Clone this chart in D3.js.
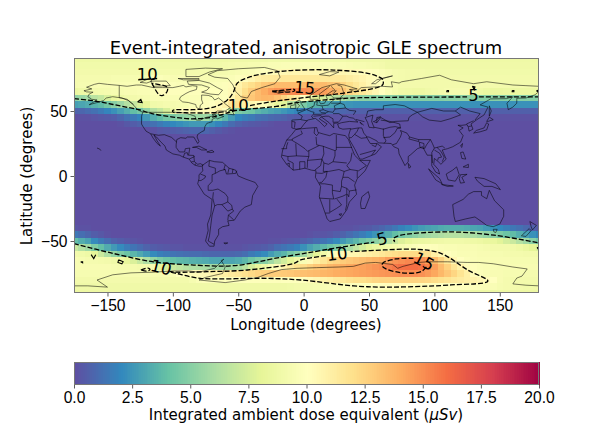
<!DOCTYPE html>
<html>
<head>
<meta charset="utf-8">
<script src="https://cdn.jsdelivr.net/npm/d3@7"></script>
<style>
body { margin: 0; background: white; }
svg { display: block; font-family: "DejaVu Sans", sans-serif; }
text { fill: #000; }
</style>
</head>
<body>
<div id="graph"></div>
<script>
const titleText = "Event-integrated, anisotropic GLE spectrum";
const xLabelText = "Longitude (degrees)";
const yLabelText = "Latitude (degrees)";

const xTicks = [-150, -100, -50, 0, 50, 100, 150];
const yTicks = [-50, 0, 50];
const barTicks = [0, 2.5, 5, 7.5, 10, 12.5, 15, 17.5, 20];

// Spectral_r stops
const colorStops = ["#5e4fa2", "#3288bd", "#66c2a5", "#abdda4", "#e6f598", "#ffffbf", "#fee08b", "#fdae61", "#f46d43", "#d53e4f", "#9e0142"];

// grid cell centres: longitudes run -175, -170 ... 180, one value per column
const gridLonStart = -175;
const gridStep = 5;

// rows not listed here are 0 (the band in the middle of the map)
const northLats = [90, 85, 80, 75, 70, 65, 60, 55, 50, 45, 40, 35];
const northRows = [
  [8.7,8.7,8.7,8.7,8.7,8.7, 8.7,8.7,8.7,8.7,8.7,8.7, 8.7,8.7,8.7,8.7,8.7,8.7, 8.7,8.7,8.7,8.7,8.7,8.7, 8.8,8.8,8.8,8.8,8.8,8.8, 8.9,8.9,8.9,8.9,8.9,8.9, 8.9,8.9,8.9,8.9,8.9,8.9, 8.8,8.8,8.8,8.8,8.8,8.8, 8.7,8.7,8.7,8.7,8.7,8.7, 8.7,8.7,8.7,8.7,8.7,8.7, 8.7,8.7,8.7,8.7,8.7,8.7, 8.7,8.7,8.7,8.7,8.7,8.7],
  [8.9,8.9,8.9,8.9,8.9,8.9, 8.9,8.9,8.9,8.9,8.9,8.9, 8.9,8.9,8.9,8.9,8.9,8.9, 8.9,8.9,8.9,8.9,8.9,9, 9.1,9.2,9.2,9.3,9.3,9.4, 9.5,9.5,9.6,9.6,9.6,9.6, 9.6,9.6,9.6,9.6,9.5,9.5, 9.4,9.3,9.3,9.2,9.1,9, 8.8,8.8,8.8,8.8,8.8,8.8, 8.8,8.8,8.8,8.8,8.8,8.8, 8.8,8.8,8.8,8.8,8.8,8.8, 8.8,8.8,8.8,8.8,8.8,8.8],
  [9,9,9,9,9,9, 9,9,9,9,9,9, 9.1,9.1,9.1,9.1,9.1,9.1, 9.1,9.1,9.1,9.1,9.2,9.2, 9.3,9.4,9.5,9.6,9.8,10, 10.2,10.3,10.4,10.5,10.5,10.5, 10.5,10.5,10.5,10.5,10.5,10.5, 10.4,10.3,10.2,10.1,9.8,9.6, 9.4,9.2,9.1,9,9,9, 8.9,8.9,8.9,8.9,8.9,8.9, 8.9,8.9,8.9,8.9,8.9,8.9, 8.9,8.9,8.9,8.9,8.9,8.9],
  [9.2,9.2,9.2,9.2,9.2,9.2, 9.3,9.3,9.3,9.3,9.3,9.3, 9.6,9.7,9.5,9.4,9.4,9.4, 9.4,9.4,9.4,9.4,9.5,9.5, 9.6,9.8,10.2,10.5,11,11.2, 11.3,11.4,11.5,11.5,11.5,11.5, 11.5,11.5,11.5,11.5,11.5,11.3, 11.1,10.9,10.7,10.4,10.2,9.9, 9.5,9.2,9.1,9,9,9, 9,9,9,9,9,9, 9,9,9,9,9,9, 9,9,9,9,9,9],
  [9.2,9.3,9.3,9.4,9.4,9.4, 9.5,9.5,9.5,9.5,9.5,9.5, 9.9,10.1,10.1,9.7,9.6,9.6, 9.6,9.6,9.6,9.7,9.7,9.8, 10.2,10.8,11.5,12,12.5,13, 13.2,13.5,13.5,13.5,13.5,13.5, 13.5,13.5,13.5,13.2,13,12.5, 12,11.5,11,10.5,10.2,10, 9.5,9.2,9,9,9,9, 9,9,9,9,9,9, 9,9,9,9,9,9, 9,9,9,9,9,9],
  [8.5,8.7,8.9,9,9.1,9.2, 9.3,9.3,9.4,9.4,9.5,9.5, 9.7,10.1,10.1,9.8,9.8,9.8, 9.8,9.8,9.9,9.9,9.9,9.8, 10.3,11,12,12.8,13.5,14, 14.5,14.8,15,15.1,15.2,15.1, 15,14.8,14.5,14.2,13.5,13.2, 12.5,12,11.5,11,10.5,10, 9.5,9.1,8.8,8.7,8.6,8.6, 8.8,8.9,9,9.2,9.2,9.2, 9.2,9,8.7,8.5,8.4,8.4, 8.5,8.5,8.5,8.5,8.5,8.5],
  [5.2,5.5,5.8,6.5,6.8,7.5, 8.3,8.6,8.9,9,9.2,9.3, 9.5,9.5,9.5,9.5,9.5,9.5, 9.6,9.6,9.7,9.7,9.8,9.9, 10.5,11.5,12.5,13,13.5,13.7, 13.6,13.2,12.5,11.7,11,10, 9,8,7.5,7,6.5,6, 5.6,5.3,5.1,5,5,5, 5,5,4.9,4.9,4.9,4.9, 4.9,4.9,4.9,5,5,5.1, 5.1,5,4.9,4.9,4.9,4.9, 4.9,4.9,4.9,4.9,4.9,4.9],
  [2.8,3,3.2,3.5,3.8,4.4, 5,5.6,6.3,6.9,7.5,8.2, 8.9,9,9.2,9.2,9.3,9.3, 9.6,9.7,9.8,10,10.3,10.8, 11.5,11.8,11,10.6,10.2,9.8, 9,8.3,7.8,6.5,5.8,4.6, 3.8,3.4,3.1,2.9,2.7,2.5, 2.4,2.3,2.3,2.3,2.3,2.3, 2.3,2.3,2.3,2.3,2.3,2.3, 2.3,2.3,2.3,2.3,2.3,2.3, 2.3,2.3,2.3,2.3,2.3,2.3, 2.3,2.3,2.3,2.3,2.3,2.3],
  [0.7,0.8,1,1.2,1.5,1.9, 2.3,2.8,3.3,3.9,4.4,5.3, 6.3,6.8,7.5,8.8,10.1,10.2, 10.3,10.3,10.3,10.5,10.8,9.8, 6.5,4.7,4.4,4.2,3.6,3.3, 3,2.8,2.5,2.2,1.9,1.6, 1.4,1.2,1.1,1,0.9,0.8, 0.7,0.6,0.6,0.6,0.6,0.6, 0.6,0.6,0.6,0.6,0.6,0.6, 0.6,0.6,0.6,0.6,0.6,0.6, 0.6,0.6,0.6,0.6,0.6,0.6, 0.6,0.6,0.6,0.6,0.6,0.6],
  [0,0.1,0.1,0.2,0.3,0.4, 0.5,0.8,1.2,1.5,1.9,2.6, 3.3,3.8,4.4,4.7,5,5.3, 5.6,5.6,5.6,5,4.4,3.6, 2.7,2,1.7,1.5,1.2,1.1, 0.9,0.8,0.7,0.5,0.4,0.3, 0.25,0.2,0.1,0.1,0.1,0.1, 0.1,0.1,0.1,0.1,0.1,0.1, 0.1,0.1,0.1,0.1,0.1,0.1, 0.1,0.1,0.1,0.1,0.1,0.1, 0.1,0.1,0.1,0.1,0.1,0.1, 0.1,0.1,0.1,0.1,0.1,0.1],
  [0,0,0,0,0,0, 0,0.1,0.3,0.5,0.7,1, 1.2,1.5,1.8,2,2.2,2.4, 2.6,2.6,2.6,2.3,1.9,1.5, 1,0.7,0.5,0.4,0.3,0.2, 0.1,0,0,0,0,0, 0,0,0,0,0,0, 0,0,0,0,0,0, 0,0,0,0,0,0, 0,0,0,0,0,0, 0,0,0,0,0,0, 0,0,0,0,0,0],
  [0,0,0,0,0,0, 0,0,0,0,0,0, 0.1,0.3,0.4,0.5,0.6,0.7, 0.8,0.8,0.8,0.6,0.4,0.2, 0.1,0,0,0,0,0, 0,0,0,0,0,0, 0,0,0,0,0,0, 0,0,0,0,0,0, 0,0,0,0,0,0, 0,0,0,0,0,0, 0,0,0,0,0,0, 0,0,0,0,0,0]
];

const southLats = [-40, -45, -50, -55, -60, -65, -70, -75, -80, -85, -90];
const southRows = [
  [0.2,0.1,0.1,0,0,0, 0,0,0,0,0,0, 0,0,0,0,0,0, 0,0,0,0,0,0, 0,0,0,0,0,0, 0,0,0,0,0,0, 0,0,0,0,0,0.1, 0.1,0.2,0.3,0.4,0.6,0.8, 1.1,1.4,1.8,2.1,2.4,2.7, 2.9,3,3.2,3.3,3.3,3.3, 3.2,3,2.9,2.6,2.3,2, 1.7,1.4,1.2,0.9,0.6,0.4],
  [1.4,1.1,0.8,0.5,0.3,0.1, 0,0,0,0,0,0, 0,0,0,0,0,0, 0,0,0,0,0,0, 0,0,0,0,0,0, 0,0,0,0,0,0, 0.1,0.2,0.2,0.3,0.5,0.7, 1,1.3,1.6,2,2.4,2.9, 3.3,3.9,4.4,4.8,5.1,5.5, 5.7,5.9,6.1,6.3,6.3,6.3, 6.1,6,5.7,5.3,5,4.6, 4.2,3.8,3.3,2.8,2.3,1.9],
  [3.9,3.3,2.9,2.1,1.5,1.1, 0.7,0.5,0.3,0.2,0.1,0, 0,0,0,0,0,0, 0,0,0,0,0,0, 0,0,0,0,0,0, 0.1,0.1,0.2,0.3,0.4,0.6, 0.8,1.1,1.3,1.6,2.1,2.6, 3.1,3.6,4.2,4.6,5.1,5.7, 6.3,7,7.7,8.1,8.4,8.5, 8.6,8.7,8.8,8.9,8.9,8.9, 8.8,8.7,8.6,8.4,8.3,7.9, 7.4,7,6.3,5.7,5,4.4],
  [7,6.3,5.7,4.7,3.9,3.2, 2.6,2.1,1.6,1.3,1,0.7, 0.5,0.4,0.3,0.2,0.2,0.1, 0.1,0.1,0.1,0.1,0.1,0.1, 0.1,0.1,0.2,0.3,0.4,0.5, 0.7,1.1,1.3,1.5,1.8,2.3, 2.9,3.3,3.7,4.2,4.7,5.3, 6,6.7,7.3,7.9,8.4,8.7, 8.9,9.1,9.3,9.5,9.7,9.9, 9.9,9.8,9.6,9.5,9.5,9.4, 9.4,9.4,9.3,9.2,9,9, 9,8.9,8.7,8.4,8,7.6],
  [9,8.9,8.7,8,7,6.1, 5.3,4.7,4.2,3.6,3.1,2.6, 2.1,1.7,1.5,1.3,1.2,1.1, 1,1,0.9,0.8,0.8,0.8, 0.8,0.9,1.1,1.5,1.8,2.1, 2.7,3.2,3.6,4.4,4.9,5.7, 7,8,8.8,9.6,10.1,10.3, 10.5,10.6,10.8,11,11.2,11.5, 11.8,12,12.2,12.2,12.2,12, 11.8,11,10.5,10,9.7,9.5, 9.5,9.5,9.4,9.4,9.3,9.3, 9.2,9.1,9.1,9,9,8.9],
  [9.4,9.3,9.2,9.2,9.1,9, 8.8,8.6,8.2,7.6,6.9,6.1, 5.3,4.6,4.2,3.9,3.7,3.6, 3.4,3.3,3.2,3,3,3, 3,3.2,3.6,4.2,4.7,5, 5.7,6.6,7.3,8,8.8,9.5, 10.3,11,11.6,12.2,12.5,12.8, 13,13.2,13.4,13.6,13.8,14, 14.5,14.8,15,15.2,15.2,15, 14.5,13.5,12.5,11.5,10.5,10, 9.7,9.6,9.5,9.5,9.4,9.4, 9.4,9.3,9.3,9.3,9.3,9.2],
  [9.4,9.4,9.4,9.4,9.4,9.4, 9.3,9.2,9.2,9.1,9,9.1, 9.3,8.3,7.5,7,6.7,6.4, 6.2,6.1,6,5.7,5.7,5.7, 5.7,5.9,6.5,7.4,8.2,8.8, 9.5,10.2,10.8,11.3,11.8,12.2, 12.6,13,13.3,13.6,13.8,14, 14.2,14.3,14.4,14.6,14.8,15, 15.4,15.7,15.9,16,16,15.8, 15.3,14.5,13.5,12.6,11.6,10.8, 10.2,9.8,9.6,9.5,9.5,9.4, 9.4,9.4,9.4,9.4,9.4,9.4],
  [9.3,9.3,9.3,9.3,9.3,9.3, 9.3,9.3,9.3,9.3,9.3,9.3, 9.3,9.3,9.4,9.5,10,10.1, 10.2,10.3,10.4,10.6,10.8,11, 11.3,11.5,11.8,12.2,12.5,12.7, 12.8,12.8,12.9,13,13.2,13.3, 13.4,13.5,13.7,13.8,14,14.1, 14.2,14.3,14.4,14.5,14.6,14.7, 14.8,14.9,15,15,15,14.9, 14.6,14.2,13.6,13,12.4,11.7, 11,10.2,9.7,9.5,9.4,9.4, 9.3,9.3,9.3,9.2,9.2,9.2],
  [9,9,9,9,9,9, 9,9,9,9,9,9, 9,9,9,9,9,9, 9.3,9.6,9.8,9.8,9.8,9.8, 9.8,9.8,9.8,9.8,9.8,9.8, 9.8,9.8,9.9,9.9,9.9,10, 10.3,10.5,10.8,11,11.3,11.5, 11.8,12,12,12.2,12.4,12.5, 12.5,12.5,12.5,12.5,12.5,12.4, 12.3,12.1,11.9,11.7,11.4,11.2, 11,10.8,10.5,10.2,10,9.4, 9.2,9.1,9,9,9,9],
  [8.8,8.8,8.8,8.8,8.8,8.8, 8.8,8.8,8.8,8.8,8.8,8.8, 8.8,8.8,8.8,8.8,8.8,8.8, 8.8,8.8,8.8,8.8,8.8,8.8, 8.8,8.8,8.8,8.8,8.8,8.8, 8.8,8.8,8.8,8.9,9,9.1, 9.2,9.3,9.5,9.6,9.7,9.7, 9.8,9.8,9.9,9.9,10,10, 10.1,10.1,10.1,10.1,10.1,10.1, 10.1,10.1,10,10,10,10, 9.9,9.8,9.7,9.6,9.5,9.3, 9.2,9.1,9,8.9,8.9,8.8],
  [8.6,8.6,8.6,8.6,8.6,8.6, 8.6,8.6,8.6,8.6,8.6,8.6, 8.6,8.6,8.6,8.6,8.6,8.6, 8.6,8.6,8.6,8.6,8.6,8.6, 8.6,8.6,8.6,8.6,8.6,8.6, 8.7,8.7,8.7,8.7,8.8,8.8, 8.8,8.8,8.8,8.8,8.8,8.8, 8.8,8.8,8.8,8.8,8.8,8.8, 8.8,8.8,8.8,8.8,8.8,8.8, 8.8,8.8,8.8,8.8,8.8,8.8, 8.8,8.7,8.7,8.7,8.6,8.6, 8.6,8.6,8.6,8.6,8.6,8.6]
];

// dashed contour lines, [lon, lat], broken where a label sits
const contour5 = [
  [[-175.6,59.5],[-165.4,58.5],[-155.6,57],[-145.7,55],[-135.8,53],[-125.9,51],[-116,48],[-101.2,45.5],[-86.3,44],[-71.5,45],[-61.6,47.5],[-53.7,50],[-41.8,51.5],[-21,53.5],[-8.2,56],[16.5,58.5],[37.3,60],[62,60.5],[125,60.8]],
  [[134,60.8],[180,60.8]],
  [[-175.6,-52],[-148,-59],[-115,-66],[-84,-68.5],[-53.7,-69],[-20,-63],[-2.3,-60],[5.4,-58.7],[23,-55.6],[54,-50.8]],
  [[69,-47.7],[74.4,-45.5],[110.4,-43],[145.7,-45.5],[180,-51.5]]
];
const contour10 = [
  [[-41,54.2],[-39.3,54.6],[-19,57.9],[6.7,61],[29.7,63.6],[60.3,70],[60.6,74],[59,75.5],[49,79],[23,81.5],[-2.3,81.5],[-20,80.2],[-40.6,76.4],[-50.6,71.5],[-54,64],[-58.3,58.5],[-66,54],[-73,52],[-85,51],[-100,50.5],[-100,49.3],[-90,48.7],[-73.6,48.5],[-59,49.5]],
  [[-116,71.3],[-111,63],[-108.4,61.8],[-104.5,64.8],[-104.3,68.2],[-116,71.3]],
  [[-126.5,74],[-112,75]],
  [[17,-61.2],[-2.3,-64.6],[-7.5,-67.2],[-43,-72.3],[-73.9,-73.6],[-96.9,-74],[-103,-73.5],[-97,-75],[-79,-78.7],[-27.8,-78.7],[-2.3,-80],[48.8,-85.2],[112.7,-83.8],[140.9,-80.8],[125.5,-72.3],[105,-59.5],[87.2,-56.4],[61.3,-56.9],[36,-58.2]],
  [[-124.5,-72.3],[-119,-70.8],[-117.5,-72],[-120,-73.2],[-124.5,-72.3]]
];
const contour15 = [
  [[-24,65],[-15,66],[-7,66.5],[-7,65.5],[-15,64.5],[-24,65]],
  [[84,-63.3],[70.5,-63.8],[60.4,-67.2],[60.4,-69.8],[74.4,-74.4],[89.7,-73.6],[94,-69.8]]
];
// very small closed contours
const contourSpecks = [
  [[109.5,65.8],[110.8,65.8],[110.8,64.8],[109.5,64.8],[109.5,65.8]],
  [[159.5,65.8],[160.8,65.8],[160.8,64.8],[159.5,64.8],[159.5,65.8]],
  [[178,65.5],[179.5,66],[179.8,64.5],[178,65.5]],
  [[-127,57],[-124.5,59],[-123.5,56.5],[-127,57]],
  [[129,69],[131,68.5],[130.5,66.5],[129,69]],
  [[-170.5,-66],[-169,-66],[-169,-66.8],[-170.5,-66]],
  [[-162.5,-60.5],[-160.5,-63.5],[-159,-60.5]],
  [[-141.5,-64.5],[-138,-66],[-139,-67.5],[-142,-66.5],[-141.5,-64.5]],
  [[178.5,-55],[180,-55],[180,-57],[178.5,-55]],
  [[68.5,-49.5],[69.5,-49.5],[69.5,-50.3],[68.5,-49.5]]
];

// contour labels: lon, lat, text, rotation
const contourLabels = [
  [-119.5, 77.7, "10", 0],
  [-50, 54.6, "10", 0],
  [0.8, 67.7, "15", 5],
  [130, 62, "5", 0],
  [-109, -70.5, "10", 14],
  [25.5, -60.2, "10", -7],
  [60, -48.5, "5", -15],
  [92, -65.8, "15", 28]
];

// coastlines, [lon, lat]
const coastlines = [
  [[-168,65.6],[-164,66.5],[-162,67],[-166,68.3],[-160,70.5],[-156.5,71.3],[-150,70.5],[-141,69.7],[-135,69],[-128,70],[-124,70],[-115,68],[-108,68],[-100,68],[-95,69],[-92,69.7],[-90,68.5],[-85,69.5],[-81.5,69],[-82,66.5],[-87,65],[-90,63.5],[-94,61],[-95,59],[-92.5,57],[-88,56.5],[-82.5,55],[-82,52.8],[-79.5,51.3],[-79,54.5],[-77,56],[-78,58.5],[-78,62.3],[-73,62],[-70,61],[-68,58.5],[-65,60],[-62,57.5],[-60,55.5],[-56,52.5],[-60,50],[-66,50],[-70,47],[-65,48.8],[-65,47],[-61,45.8],[-66,44],[-67,45],[-70,43.5],[-70,41.7],[-74,40.5],[-75.5,38],[-76,35],[-78,34],[-81,32],[-81.5,30],[-80,26.5],[-81,25],[-82.8,28],[-84,30],[-89,30],[-90,29],[-94,29.5],[-97,28],[-97.5,24],[-97.5,22],[-95,18.5],[-91,18.5],[-90.5,21],[-87,21.5],[-88,16],[-84,15.8],[-83.5,11],[-81,9],[-79,9.5],[-77,8.5],[-78,7.5],[-80,7.5],[-83,8.3],[-85.5,10],[-87.5,13],[-92,14.5],[-95,16],[-100,17],[-105,20],[-106,23],[-109,26],[-112.5,30],[-114.5,31.5],[-112,27],[-109.5,23],[-112,25],[-115,29],[-117,32.5],[-120.5,34.5],[-122.5,37.5],[-124,40],[-124,46],[-123,49],[-127,51],[-130,54.5],[-134,58],[-139,60],[-146,61],[-151,60],[-153,58],[-158,56.5],[-164,54.8],[-158,58.5],[-162,59],[-165,61],[-164,63],[-161,64.5],[-166,64.7],[-168,65.6]],
  [[-73,78],[-66,81],[-50,82.5],[-30,83.5],[-20,81],[-18,76],[-22,71],[-32,68],[-40,65],[-43,60],[-48,61],[-52,65],[-54,70],[-58,75],[-68,76],[-73,78]],
  [[-80,73.5],[-72,71.5],[-66,68],[-62,66],[-65,62.5],[-71,63],[-78,64.5],[-74,66],[-72,68],[-78,70],[-88,70.5],[-89,73],[-80,73.5]],
  [[-117,73],[-105,73],[-102,69.5],[-115,69],[-117,73]],
  [[-90,76.5],[-80,76.5],[-72,80],[-62,82.5],[-75,83],[-90,82],[-90,76.5]],
  [[-125,72],[-118,75],[-116,73],[-120,71.5],[-125,72]],
  [[-96,75],[-80,75],[-80,74],[-92,74],[-96,75]],
  [[-59,47.8],[-53,47],[-55.5,51.5],[-59,47.8]],
  [[-85,22],[-80,23],[-74,20],[-78,20],[-82,22],[-85,22]],
  [[-74,18.5],[-70,19.8],[-68.5,18.5],[-71,18],[-74,18.5]],
  [[-158,21.5],[-156,20.8],[-155,19.5]],
  [[-24,65.5],[-15,66],[-14,65],[-19,63.5],[-24,65.5]],
  [[12,78],[20,80.3],[27,80],[20,77],[12,78]],
  [[52,71],[56,74],[68,77],[60,75],[55,71],[52,71]],
  [[-5,50],[1,51.2],[0,53],[-2,56],[-3,58.5],[-6,57],[-3,54],[-5,52],[-5,50]],
  [[-10,52],[-6,52],[-6,55],[-10,54],[-10,52]],
  [[-77,8.5],[-72,12],[-68,11],[-62,10.5],[-57,6],[-52,4.5],[-50,0],[-44,-2.5],[-37,-5],[-35,-8],[-39,-15],[-40,-22],[-45,-24],[-48.5,-27],[-53,-34],[-58,-34.5],[-57,-38],[-62,-39],[-65,-41],[-65,-45],[-68,-50],[-68.5,-54],[-72,-54],[-75,-50],[-73,-42],[-73.5,-37],[-71,-30],[-70,-18],[-76,-14],[-81,-6],[-80,-2],[-80,1],[-77,4],[-77.5,7],[-77,8.5]],
  [[-6,35.8],[2,36.7],[10,37.3],[11,33.5],[15,32.3],[20,31],[23,32.7],[32,31],[34.3,28],[37,21],[39,16],[43,12],[51,12],[47,4],[41,-2],[39,-7],[40.5,-14],[35,-20],[33,-26],[28,-33],[20,-35],[18,-33],[14.5,-23],[12,-16],[13,-8],[9,-1],[9.5,4],[6,4.5],[1,6],[-4,5],[-8,4.5],[-13,9],[-17,14.7],[-16,20],[-13,27.5],[-9,32],[-6,35.8]],
  [[49.5,-12],[50.5,-16],[47,-25],[44,-25],[43.5,-21],[44.5,-16],[49.5,-12]],
  [[-9,37],[-9,43],[-2,43.5],[-1,46],[-4.5,48.3],[2,51],[4,52],[8,54],[8.5,57],[10.5,57],[10,54.5],[14,54],[19,54.5],[21,57],[24,59.3],[30,60],[23,60],[21,62],[25,65.5],[22,65.5],[17,62],[18,59.5],[16,56],[13,55.5],[11,59],[5,59],[5,62],[14,68],[25,71],[31,70],[41,67],[35,66.5],[40,64.5],[44,68],[54,68.5],[60,69],[68,68.5],[67,72.5],[73,71.5],[75,72.5],[81,73.5],[90,75],[104,77.5],[113,74],[130,71],[140,72.5],[160,70],[170,69.5],[180,69],[180,65],[177,62.5],[170,60],[163,59.8],[163,56],[160,53],[156.5,51],[155.5,56],[160,61],[155,59.5],[143,59.3],[135,54.7],[141,53],[138,47],[132,43],[128,40],[129.5,36],[126.5,34.5],[126,37.5],[125,39.5],[121,39],[118,39],[122,37],[119,35],[122,31],[120,26],[114,22.5],[110,21],[106,20],[109,13],[105,9],[103,11],[100,13.5],[99.5,9],[103,5],[104,1.5],[101,3],[98,8],[98,16],[94.5,16],[91,22.5],[87,21],[82,16.5],[80,15],[80,11],[77.5,8],[73,17],[72.5,21],[69,22.5],[67,25],[57,25.5],[56,27],[50,30],[48,30],[51,25],[56,25],[59.5,22.5],[55,17],[45,13],[43,13],[39,21],[35,28],[34.5,31.5],[36,36.5],[30,36],[27,37],[26,40],[29,41],[35,42],[41.5,41.5],[38,44.5],[35,45],[33,46],[30,46],[28,43],[26,40.8],[23,40.5],[23,37],[19.5,41],[13.5,45.5],[12,44],[18,40],[16,38],[12,42],[9,44.3],[3,43],[0,39.5],[-2,36.7],[-5.5,36],[-9,37]],
  [[47,45],[53,46.8],[52,42],[54,37],[50,37.5],[49,41],[47,45]],
  [[142,54],[143.5,50],[142,46],[142,50],[142,54]],
  [[130,33],[135,34],[140,35.5],[141.5,40],[140,41],[138,37],[132,35],[130,33]],
  [[140,42],[142,45.3],[145,43.3],[141,42],[140,42]],
  [[120,23],[121.5,25],[121,22],[120,23]],
  [[120,18],[122,18.5],[124,13],[121,13.5],[120,18]],
  [[122,7],[126,9],[126,6.5],[122,7]],
  [[109,1.5],[114,4.5],[117,7],[119,1],[116,-4],[110.5,-3],[109,1.5]],
  [[95.5,5.5],[104,-2],[106,-6],[101,-3],[95.5,5.5]],
  [[105.5,-6.5],[114.5,-7.7],[110,-8],[105.5,-6.5]],
  [[120,1],[125,1.3],[121,-1],[123,-5],[120,-5.5],[119,-2],[120,1]],
  [[131,-1],[138,-2],[147,-6],[150.5,-10.5],[144,-8],[138,-8],[133,-4],[131,-1]],
  [[80,9.7],[82,7],[80.5,6],[80,9.7]],
  [[114,-22],[122,-18],[126,-14],[130,-12],[136,-12],[136,-15],[140,-17.5],[142,-11],[146,-19],[153,-26],[153,-31],[150,-37],[145,-39],[140,-38],[136,-35],[131,-31.5],[124,-33],[116,-35],[115,-31],[114,-22]],
  [[145,-41],[148,-41],[147,-43.5],[145.5,-43],[145,-41]],
  [[173,-35],[178,-38],[175,-41.5],[174,-39],[173,-35]],
  [[172.5,-40.5],[174,-42],[170,-46.5],[166.5,-46],[172.5,-40.5]],
  [[-61,-51.5],[-58,-51.5],[-60,-52.2],[-61,-51.5]],
  [[-180,-84.5],[-165,-84.5],[-150,-85.5],[-158,-80],[-146,-76],[-132,-74.5],[-115,-74],[-100,-73],[-88,-73],[-80,-74],[-68,-71],[-61,-64],[-63,-65],[-60,-70],[-62,-75],[-75,-78],[-80,-80],[-60,-82],[-45,-80],[-35,-78],[-27,-75],[-17,-72],[-5,-71],[10,-70.5],[27,-70],[38,-69.5],[47,-67],[55,-66.5],[68,-68],[72,-71],[76,-69.5],[88,-66.5],[95,-66],[110,-66],[125,-66.5],[134,-66.5],[145,-67.5],[160,-70],[171,-71.5],[167,-77],[163,-78.5],[160,-83],[170,-84],[180,-84.5]]
];

// country borders, [lon, lat]
const borders = [
  [[-141,69.7],[-141,60.3],[-135,59],[-130,55]],
  [[-123,49],[-95,49],[-89,48],[-83,46],[-82,43],[-79,43],[-75,45],[-70,46],[-67.5,47.3],[-67,45]],
  [[-117,32.5],[-111,31.3],[-106.5,31.8],[-101,29.7],[-97,26]],
  [[-92,14.5],[-91,17.5],[-89,18],[-88.5,15.8]],
  [[-87.5,13],[-83.3,15]],
  [[-85.7,11],[-83.7,11]],
  [[-83,8.3],[-82.7,9.6]],
  [[-72,12],[-72.5,7.5],[-67.5,6],[-67.5,2],[-70,1],[-70,-4.2]],
  [[-79,1.5],[-75,0],[-75.5,-1.5],[-78.5,-3.5],[-80.2,-3.5]],
  [[-70,-4.2],[-73,-7.5],[-73,-11],[-69.5,-11]],
  [[-69.5,-11],[-65.5,-10],[-60,-13.5],[-58,-16.3],[-58,-20],[-62.5,-22],[-66,-22],[-68,-23],[-69,-19],[-69.5,-17],[-69,-12.5]],
  [[-68,-23],[-70,-30],[-71,-38],[-72,-46],[-73,-50],[-68.5,-52.5]],
  [[-58,-20],[-55,-22.5],[-54.5,-25.5],[-58,-27],[-62.5,-22]],
  [[-53.5,-33.7],[-57.5,-30],[-58,-34]],
  [[-57.5,-30],[-53.5,-27],[-54.5,-25.5]],
  [[-60,8.5],[-61,5],[-60,5],[-64,4],[-67.5,2]],
  [[-57,6],[-58,2]],
  [[-54,5.5],[-54.5,2.3]],
  [[-60,5],[-59,1.5],[-52,2],[-51,4]],
  [[-2,35],[-1,32.5],[-8.7,28.5],[-8.7,27.3]],
  [[-13,27.7],[-8.7,27.7]],
  [[-8.7,27.3],[-4.8,25],[1,21],[3,19],[4,19.5],[12,23.5],[14.5,23],[24,19.5],[25,20],[25,31.5]],
  [[-17,21],[-13,21],[-13,23],[-12,26]],
  [[-6,25],[-5.5,15.5],[-12,15],[-16.5,16]],
  [[-5.5,15.5],[4,15],[4,19.5]],
  [[4,15],[3,12],[14,13],[15.5,17],[15,23]],
  [[24,19.5],[24,15.5],[22.5,11],[19,9],[15.5,10],[14,13]],
  [[25,22],[37,22]],
  [[9.5,30],[10,24],[12,23.5]],
  [[8.5,37],[8,33],[10,31],[11.5,33]],
  [[3,12],[2.8,6.3]],
  [[14,13],[13,8],[8.5,4.5]],
  [[-3,5],[-3,11],[1,11],[1,6]],
  [[-8,4.5],[-8,10],[-12,12],[-12,15]],
  [[-13,9],[-11,10],[-11,7]],
  [[37,18],[36,12],[34,9],[33,8],[35.5,5]],
  [[22.5,11],[33,10]],
  [[27,5],[31,3.5],[35.5,5]],
  [[43,12],[48,8],[42,4],[35.5,5]],
  [[41,-1.5],[41,3.8]],
  [[34,-1],[39,-4.5]],
  [[34,-1],[30,-1],[31,3.5]],
  [[27,5],[19,3.5],[15,3.5],[15.5,10]],
  [[9.5,2.3],[14,2],[18,3.5],[17,-1],[14,-4.8],[12,-5]],
  [[12,-6],[16,-6],[22,-7],[22,-11],[28,-12],[29,-8],[29,-4],[30,-1]],
  [[12,-17],[23,-17.7],[22,-13],[22,-11]],
  [[23.5,-17.7],[30,-15.5],[33,-14],[33,-9.5],[29,-8]],
  [[40.5,-10.7],[35,-11.5],[33,-9.5]],
  [[33,-14],[33,-22],[32,-26.5]],
  [[20,-18],[20,-28],[25,-25],[29,-22.3],[25.5,-17.8]],
  [[16.5,-28.5],[20,-28.5]],
  [[27,-29.5],[29,-29],[28.5,-30.5],[27,-29.5]],
  [[35,-11.5],[34.5,-16],[33.5,-14]],
  [[36,36],[42,37],[44.5,37]],
  [[44.5,39.5],[43,41.5]],
  [[44.5,37],[46,33],[48.5,30]],
  [[48,29.5],[44,29],[39,32],[36.5,29.5],[35,29.5]],
  [[42,37],[41,34.5],[39,32]],
  [[43,16.5],[52,19],[55,20],[52,16]],
  [[52,24],[55,22.5],[56,25]],
  [[61,36.5],[61,31],[63,27],[61.5,25]],
  [[61,29.5],[66,30],[70,33.5],[71.5,36.5],[74.5,37]],
  [[54,37.5],[61,36],[66,37.5],[70,38]],
  [[54,42],[59,45.5],[56,45],[56,41]],
  [[70,38],[74,37],[73.5,40],[70,41],[66,42],[59,43]],
  [[48,46],[49,50],[55,51],[61,51],[61,54],[70,55],[77,54],[87,49]],
  [[53,42],[56,41],[59,45],[66,41],[70,42],[80,42.5],[80.5,45],[83,47],[87,49]],
  [[87,49],[98,52],[107,50],[116,50],[120,47],[112,44],[105,42],[96,43],[91,45.5],[87,49]],
  [[120,53],[127,50],[135,48],[131,43]],
  [[116,50],[120,53]],
  [[124.5,40],[130,42.5]],
  [[126,38],[128.5,38.5]],
  [[74,35],[79,33],[81,30],[88,28],[92,28],[97,28],[98.5,25],[100,21.5],[102,22],[106,23],[108,21.5]],
  [[81,30],[80.5,28.5],[88,26.5],[88,28]],
  [[68,24],[71,25],[74,30],[75,33],[74,35]],
  [[88.5,26],[89,22],[92,21],[92,25],[88.5,26]],
  [[92.5,21],[94,24],[97,28]],
  [[100,21.5],[98,18],[98.5,10]],
  [[100,20],[104,17.5],[105.5,14.5],[103,14],[102.5,12]],
  [[102,22],[105,19],[107.5,14.5],[106,11]],
  [[-2,43.3],[3,42.4]],
  [[-8.7,42],[-6.5,41.5],[-7,37.2]],
  [[2.5,51],[6,49.5],[8,49],[7.5,47.5],[6,46],[7.5,44]],
  [[14,54],[15,51],[19,49.5],[22.5,49]],
  [[6,51.5],[7,53.5]],
  [[12,50.3],[15,51]],
  [[12,50.3],[13.5,48.7],[17,48.5],[19,49.5]],
  [[7.5,47.5],[13,47.5],[17,48]],
  [[7.5,46],[13.5,46.5]],
  [[13.5,45.5],[17,46],[19,46],[22.5,44],[22.5,41.3],[26.3,41.5]],
  [[22.5,48],[27,48],[30,46]],
  [[22.5,49],[24,51.5],[32,52.3],[35,50.5],[40,50],[38,47]],
  [[24,51.5],[23.5,54],[28,56],[31,55],[32,52.3]],
  [[21,56],[28,56],[28,59.3]],
  [[28,60.3],[31,63],[29,69],[26,70]],
  [[12,59],[12,63],[20,69]],
  [[24,66],[21,69]],
  [[40,43.5],[46.5,41.8]],
  [[43,41.5],[46,39]]
];

const width = 598, height = 434;
const margin = {top: 58, right: 59, bottom: 141, left: 74};
const barTop = 362, barBottom = 385;
const tickFont = "15.6px";
const labelFont = "15px";

let svg = d3.select("#graph")
    .append("svg")
    .attr("width", width)
    .attr("height", height);

let x = d3.scaleLinear()
    .domain([-175.6, 180])
    .range([margin.left, width - margin.right]);
let y = d3.scaleLinear()
    .domain([-90, 90.77])
    .range([height - margin.bottom, margin.top]);

const color = d3.scaleLinear()
    .domain(colorStops.map((c, i) => i * 2))
    .range(colorStops)
    .interpolate(d3.interpolateRgb);

svg.append("clipPath")
    .attr("id", "plot-clip")
    .append("rect")
    .attr("x", margin.left)
    .attr("y", margin.top)
    .attr("width", width - margin.left - margin.right)
    .attr("height", height - margin.top - margin.bottom);

let plot = svg.append("g").attr("clip-path", "url(#plot-clip)");

// background is the 0 colour, the listed rows go on top
plot.append("rect")
    .attr("x", margin.left)
    .attr("y", margin.top)
    .attr("width", width - margin.left - margin.right)
    .attr("height", height - margin.top - margin.bottom)
    .attr("fill", color(0));

let cells = [];
function addRows(lats, rows) {
    lats.forEach(function(lat, r) {
        rows[r].forEach(function(v, c) {
            cells.push({lon: gridLonStart + c * gridStep, lat: lat, value: v});
        });
    });
}
addRows(northLats, northRows);
addRows(southLats, southRows);

plot.selectAll(".cell")
    .data(cells)
    .enter()
    .append("rect")
    .attr("class", "cell")
    .attr("x", d => x(d.lon - gridStep / 2))
    .attr("y", d => y(d.lat + gridStep / 2))
    .attr("width", d => x(d.lon + gridStep / 2) - x(d.lon - gridStep / 2) + 0.5)
    .attr("height", d => y(d.lat - gridStep / 2) - y(d.lat + gridStep / 2) + 0.5)
    .attr("shape-rendering", "crispEdges")
    .attr("fill", d => color(d.value));

const line = d3.line().x(d => x(d[0])).y(d => y(d[1]));

plot.selectAll(".coast")
    .data(coastlines.concat(borders))
    .enter()
    .append("path")
    .attr("class", "coast")
    .attr("d", line)
    .attr("fill", "none")
    .attr("stroke", "#000")
    .attr("stroke-opacity", 0.75)
    .attr("stroke-width", 0.7);

plot.selectAll(".contour")
    .data(contour5.concat(contour10, contour15))
    .enter()
    .append("path")
    .attr("class", "contour")
    .attr("d", line.curve(d3.curveCatmullRom.alpha(0.5)))
    .attr("fill", "none")
    .attr("stroke", "#000")
    .attr("stroke-width", 1.3)
    .attr("stroke-dasharray", "5,2");

line.curve(d3.curveLinear);
plot.selectAll(".speck")
    .data(contourSpecks)
    .enter()
    .append("path")
    .attr("class", "speck")
    .attr("d", line)
    .attr("fill", "none")
    .attr("stroke", "#000")
    .attr("stroke-width", 1.1);

svg.selectAll(".clabel")
    .data(contourLabels)
    .enter()
    .append("text")
    .attr("class", "clabel")
    .attr("transform", d => `translate(${x(d[0])}, ${y(d[1])})rotate(${d[3]})`)
    .attr("text-anchor", "middle")
    .attr("dominant-baseline", "central")
    .style("font-size", "16.5px")
    .text(d => d[2]);

// axes
function styleAxis(g) {
    g.selectAll("text").style("font-size", tickFont).attr("fill", "#000");
    g.selectAll("line").attr("stroke", "#333").attr("stroke-width", 0.8);
    g.select(".domain").remove();
}

const minusFormat = d => String(d).replace("-", "\u2212");

svg.append("g")
    .attr("transform", `translate(0, ${height - margin.bottom})`)
    .call(d3.axisBottom(x).tickValues(xTicks).tickSize(3.5).tickPadding(3).tickFormat(minusFormat))
    .call(styleAxis);

svg.append("g")
    .attr("transform", `translate(${margin.left}, 0)`)
    .call(d3.axisLeft(y).tickValues(yTicks).tickSize(3.5).tickPadding(3).tickFormat(minusFormat))
    .call(styleAxis);

svg.append("rect")
    .attr("x", margin.left + 0.5)
    .attr("y", margin.top + 0.5)
    .attr("width", width - margin.left - margin.right - 1)
    .attr("height", height - margin.top - margin.bottom - 1)
    .attr("fill", "none")
    .attr("stroke", "#777")
    .attr("stroke-width", 1);

// title and axis labels
svg.append("text")
    .attr("x", 306)
    .attr("y", 54)
    .attr("text-anchor", "middle")
    .style("font-size", "17.9px")
    .text(titleText);

svg.append("text")
    .attr("x", 306)
    .attr("y", 330)
    .attr("text-anchor", "middle")
    .style("font-size", labelFont)
    .text(xLabelText);

svg.append("text")
    .attr("transform", `translate(32, 176)rotate(-90)`)
    .attr("text-anchor", "middle")
    .style("font-size", labelFont)
    .text(yLabelText);

// colour bar
let barX = d3.scaleLinear().domain([0, 20]).range([margin.left, width - margin.right]);
const barSteps = d3.range(0, 20, 20 / 256);

svg.selectAll(".bar-step")
    .data(barSteps)
    .enter()
    .append("rect")
    .attr("class", "bar-step")
    .attr("x", d => barX(d))
    .attr("y", barTop)
    .attr("width", barX(20 / 256) - barX(0) + 1)
    .attr("height", barBottom - barTop)
    .attr("shape-rendering", "crispEdges")
    .attr("fill", d => color(d));

svg.append("rect")
    .attr("x", margin.left + 0.5)
    .attr("y", barTop + 0.5)
    .attr("width", width - margin.left - margin.right - 1)
    .attr("height", barBottom - barTop - 1)
    .attr("fill", "none")
    .attr("stroke", "#777")
    .attr("stroke-width", 1);

svg.append("g")
    .attr("transform", `translate(0, ${barBottom})`)
    .call(d3.axisBottom(barX).tickValues(barTicks).tickSize(3.5).tickPadding(3).tickFormat(d3.format(".1f")))
    .call(styleAxis);

let barLabel = svg.append("text")
    .attr("x", 306)
    .attr("y", 420)
    .attr("text-anchor", "middle")
    .style("font-size", labelFont);
barLabel.append("tspan").text("Integrated ambient dose equivalent (");
barLabel.append("tspan").style("font-style", "italic").text("\u03bcSv");
barLabel.append("tspan").text(")");
</script>
</body>
</html>
